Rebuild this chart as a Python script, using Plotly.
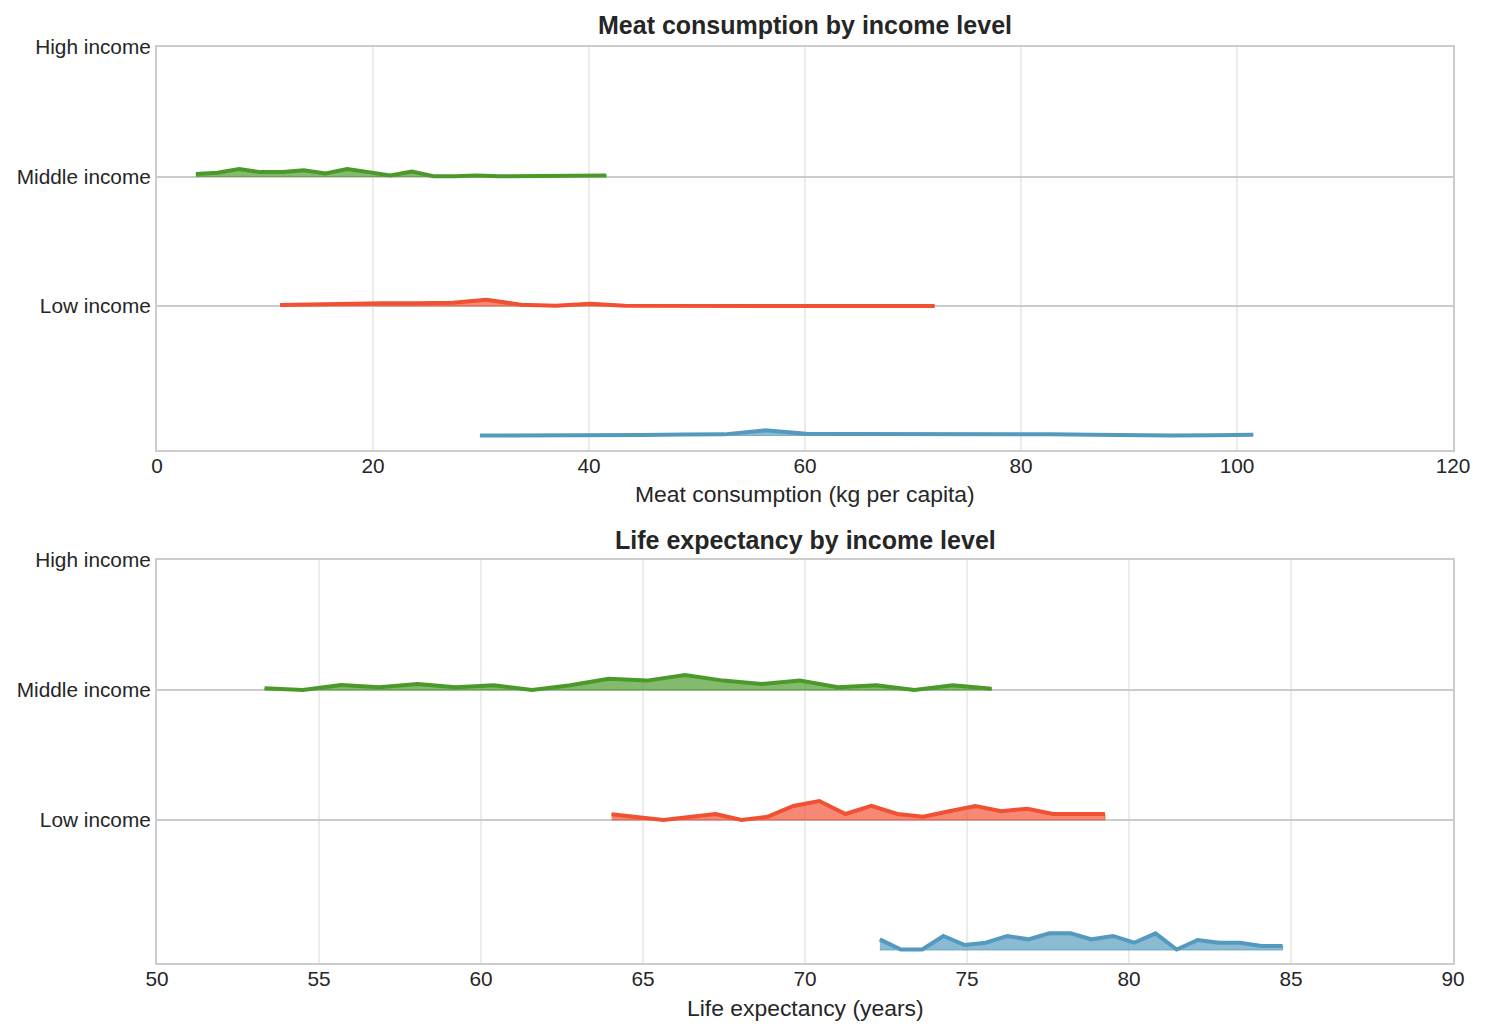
import plotly.graph_objects as go

# ---------------- data ----------------
levels = ["Low income", "Middle income", "High income"]
level_pos = [1, 2, 3]

# Meat consumption (kg per capita) ridges
meat_high_x = [29.9, 33.7, 37.4, 41.2, 45.0, 48.8, 52.5, 56.3, 60.1, 63.8,
               67.6, 71.4, 75.2, 78.9, 82.7, 86.5, 90.2, 94.0, 97.8, 101.5]
meat_high_h = [0.0, 0.0, 0.003, 0.004, 0.004, 0.008, 0.009, 0.040, 0.014, 0.012,
               0.013, 0.012, 0.010, 0.009, 0.010, 0.007, 0.0, 0.0, 0.002, 0.006]
meat_low_x = [11.4, 14.6, 17.8, 21.0, 24.2, 27.4, 30.5, 33.7, 36.9, 40.1,
              43.3, 46.5, 49.7, 52.9, 56.0, 59.2, 62.4, 65.6, 68.8, 72.0]
meat_low_h = [0.008, 0.014, 0.020, 0.022, 0.022, 0.025, 0.049, 0.010, 0.002, 0.017,
              0.002, 0.002, 0.002, 0.001, 0.0, 0.003, 0.0, 0.0, 0.0, 0.0]
meat_mid_x = [3.6, 5.6, 7.6, 9.6, 11.6, 13.6, 15.6, 17.6, 19.6, 21.6,
              23.6, 25.6, 27.6, 29.6, 31.6, 33.6, 35.6, 37.6, 39.6, 41.6]
meat_mid_h = [0.019, 0.029, 0.057, 0.034, 0.034, 0.049, 0.023, 0.057, 0.034, 0.008,
              0.039, 0.002, 0.002, 0.008, 0.002, 0.002, 0.002, 0.002, 0.002, 0.008]

# Life expectancy (years) ridges
life_high_x = [72.31, 72.96, 73.62, 74.27, 74.93, 75.58, 76.24, 76.89, 77.54, 78.20,
               78.85, 79.51, 80.16, 80.82, 81.47, 82.12, 82.78, 83.43, 84.09, 84.74]
life_high_h = [0.082, 0.004, 0.004, 0.108, 0.038, 0.056, 0.108, 0.082, 0.128, 0.128,
               0.082, 0.108, 0.056, 0.128, 0.004, 0.077, 0.056, 0.056, 0.031, 0.031]
life_low_x = [64.03, 64.83, 65.63, 66.43, 67.24, 68.04, 68.84, 69.64, 70.44, 71.25,
              72.05, 72.85, 73.65, 74.45, 75.26, 76.06, 76.86, 77.66, 78.46, 79.26]
life_low_h = [0.044, 0.022, 0.0, 0.023, 0.046, 0.0, 0.025, 0.108, 0.146, 0.046,
              0.108, 0.046, 0.025, 0.067, 0.108, 0.067, 0.087, 0.046, 0.046, 0.046]
life_mid_x = [53.32, 54.50, 55.68, 56.86, 58.04, 59.22, 60.40, 61.58, 62.76, 63.94,
              65.12, 66.30, 67.48, 68.66, 69.84, 71.02, 72.20, 73.38, 74.56, 75.76]
life_mid_h = [0.013, 0.0, 0.038, 0.021, 0.046, 0.021, 0.036, 0.0, 0.036, 0.087,
              0.072, 0.115, 0.072, 0.046, 0.072, 0.021, 0.036, 0.0, 0.036, 0.010]

# baselines of the ridges
base_high, base_low, base_mid = 0, 1, 2

colors = {"high": "#5499BE", "low": "#F05133", "mid": "#4A9A2A"}
fills = {"high": "rgba(84,153,190,0.68)", "low": "rgba(240,81,51,0.68)",
         "mid": "rgba(74,154,42,0.68)"}

TXT = "#262626"
FONT = "Liberation Sans, Arial, sans-serif"

fig = go.Figure()


def ridge(xs, hs, base, key, xa, ya):
    top = [base + h for h in hs]
    fig.add_trace(go.Scatter(
        x=list(xs) + list(xs)[::-1], y=top + [base] * len(xs),
        fill="toself", fillcolor=fills[key], mode="lines",
        line=dict(width=1, color=fills[key]),
        xaxis=xa, yaxis=ya, showlegend=False, hoverinfo="skip"))
    fig.add_trace(go.Scatter(
        x=xs, y=top, mode="lines",
        line=dict(width=4, color=colors[key]),
        xaxis=xa, yaxis=ya, showlegend=False))


ridge(meat_high_x, meat_high_h, base_high, "high", "x", "y")
ridge(meat_low_x, meat_low_h, base_low, "low", "x", "y")
ridge(meat_mid_x, meat_mid_h, base_mid, "mid", "x", "y")
ridge(life_high_x, life_high_h, base_high, "high", "x2", "y2")
ridge(life_low_x, life_low_h, base_low, "low", "x2", "y2")
ridge(life_mid_x, life_mid_h, base_mid, "mid", "x2", "y2")

xcommon = dict(showline=True, mirror=True, linecolor="#cccccc", linewidth=2,
               showgrid=True, gridcolor="#ebebeb", gridwidth=1.5,
               zeroline=False, ticks="", ticklabelstandoff=-4,
               tickfont=dict(size=20.8, color=TXT, family=FONT))
ycommon = dict(showline=True, mirror=True, linecolor="#cccccc", linewidth=2,
               showgrid=True, gridcolor="#cccccc", gridwidth=1.8,
               zeroline=False, ticks="", tickvals=level_pos, ticktext=levels,
               tickfont=dict(size=20.8, color=TXT, family=FONT), ticklabelstandoff=0)

fig.update_layout(
    width=1485, height=1036,
    margin=dict(l=157, r=32, t=47, b=73),
    plot_bgcolor="white", paper_bgcolor="white",
    font=dict(family=FONT, color=TXT),
    xaxis=dict(domain=[0, 1], anchor="y", range=[0, 120], dtick=20, **xcommon),
    yaxis=dict(domain=[0.56, 1.0], anchor="x", range=[-0.112, 3], **ycommon),
    xaxis2=dict(domain=[0, 1], anchor="y2", range=[50, 90], dtick=5, **xcommon),
    yaxis2=dict(domain=[0, 0.44], anchor="x2", range=[-0.1, 3], **ycommon),
    annotations=[
        dict(text="<b>Meat consumption by income level</b>", x=0.5, y=(963 - 25) / 916,
             xref="paper", yref="paper", showarrow=False, yanchor="middle",
             font=dict(size=25, color=TXT, family=FONT)),
        dict(text="<b>Life expectancy by income level</b>", x=0.5, y=(963 - 540) / 916,
             xref="paper", yref="paper", showarrow=False, yanchor="middle",
             font=dict(size=25, color=TXT, family=FONT)),
        dict(text="Meat consumption (kg per capita)", x=0.5, y=(963 - 494) / 916,
             xref="paper", yref="paper", showarrow=False, yanchor="middle",
             font=dict(size=22.9, color=TXT, family=FONT)),
        dict(text="Life expectancy (years)", x=0.5, y=(963 - 1008) / 916,
             xref="paper", yref="paper", showarrow=False, yanchor="middle",
             font=dict(size=22.9, color=TXT, family=FONT)),
    ],
)

fig.write_html("out.html")
